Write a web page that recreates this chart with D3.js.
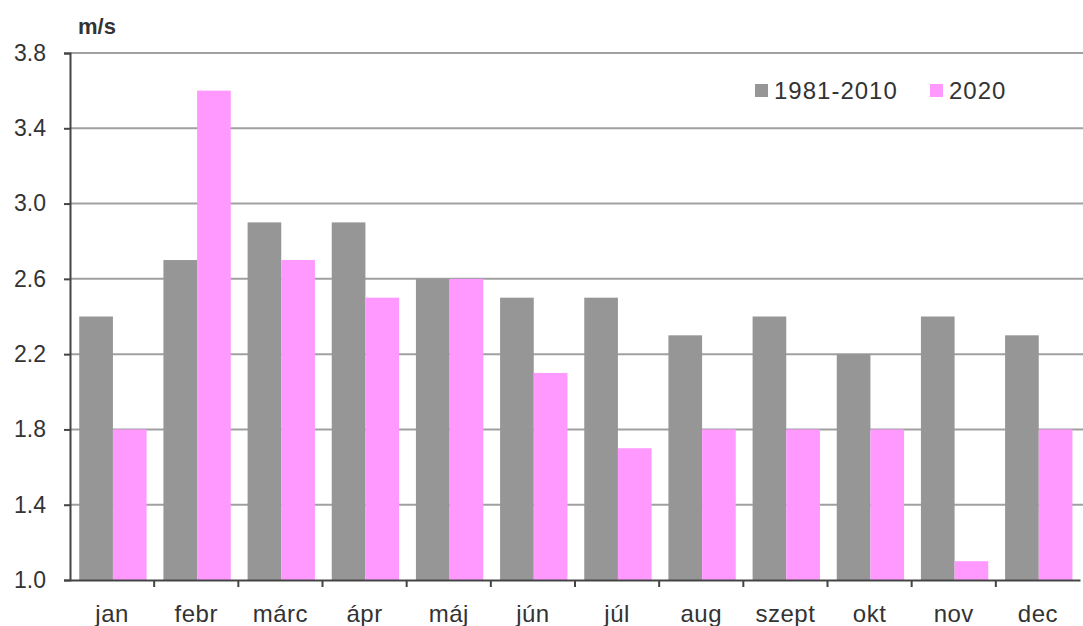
<!DOCTYPE html>
<html>
<head>
<meta charset="utf-8">
<script src="https://cdn.jsdelivr.net/npm/d3@7"></script>
<style>
  body { margin: 0; background: #fff; }
  text { font-family: "Liberation Sans", Arial, sans-serif; fill: #333; }
</style>
</head>
<body>
<div id="chart"></div>
<script>
const months = ["jan", "febr", "márc", "ápr", "máj", "jún", "júl", "aug", "szept", "okt", "nov", "dec"];
const seriesNames = ["1981-2010", "2020"];
const normal = [2.4, 2.7, 2.9, 2.9, 2.6, 2.5, 2.5, 2.3, 2.4, 2.2, 2.4, 2.3];
const year2020 = [1.8, 3.6, 2.7, 2.5, 2.6, 2.1, 1.7, 1.8, 1.8, 1.8, 1.1, 1.8];
const yTicks = [1.0, 1.4, 1.8, 2.2, 2.6, 3.0, 3.4, 3.8];
const colors = ["#969696", "#ff99ff"];

const width = 1083, height = 626;
const plotLeft = 70, plotRight = 1080, plotTop = 53, plotBottom = 580;

const svg = d3.select("#chart").append("svg")
    .attr("width", width)
    .attr("height", height);

const x0 = d3.scaleBand().domain(months).range([plotLeft, plotRight]);
const xs = d3.scaleBand().domain(seriesNames).range([0, x0.bandwidth() * 0.8]);
const y = d3.scaleLinear().domain([1.0, 3.8]).range([plotBottom, plotTop]);

// gridlines
svg.append("g")
    .selectAll("line")
    .data(yTicks.slice(1))
    .enter().append("line")
    .attr("x1", plotLeft).attr("x2", plotRight + 3)
    .attr("y1", d => y(d)).attr("y2", d => y(d))
    .attr("stroke", "#a0a0a0")
    .attr("stroke-width", 2);

// bars
const groups = svg.append("g")
    .selectAll("g")
    .data(months)
    .enter().append("g")
    .attr("transform", d => `translate(${x0(d) + x0.bandwidth() * 0.11},0)`);

[normal, year2020].forEach((vals, si) => {
    groups.append("rect")
        .attr("x", xs(seriesNames[si]))
        .attr("width", xs.bandwidth())
        .attr("y", (d, i) => y(vals[i]))
        .attr("height", (d, i) => y(1.0) - y(vals[i]))
        .attr("fill", colors[si]);
});

// y axis
const yAxis = svg.append("g")
    .attr("transform", `translate(${plotLeft},0)`)
    .call(d3.axisLeft(y).tickValues(yTicks).tickFormat(d3.format(".1f")).tickSize(6).tickPadding(18));
yAxis.select(".domain").attr("stroke", "#444").attr("stroke-width", 2);
yAxis.selectAll(".tick line").attr("stroke", "#444").attr("stroke-width", 2);
yAxis.selectAll("text").style("font-size", "23px").attr("fill", "#333");

// x axis
const xAxis = svg.append("g")
    .attr("transform", `translate(0,${plotBottom})`)
    .call(d3.axisBottom(x0).tickSize(0).tickPadding(25));
xAxis.select(".domain").attr("stroke", "#444").attr("stroke-width", 2);
xAxis.selectAll("text").style("font-size", "24px").style("letter-spacing", "0.5px").attr("fill", "#333");
xAxis.selectAll(".sep")
    .data(months.slice(1))
    .enter().append("line")
    .attr("x1", d => x0(d)).attr("x2", d => x0(d))
    .attr("y1", 0).attr("y2", 7)
    .attr("stroke", "#444").attr("stroke-width", 2);

// unit label
svg.append("text")
    .attr("x", 78).attr("y", 34)
    .style("font-size", "22px")
    .style("font-weight", "bold")
    .text("m/s");

// legend
const legendX = [755, 930];
const legend = svg.append("g");
seriesNames.forEach((name, i) => {
    legend.append("rect")
        .attr("x", legendX[i]).attr("y", 84)
        .attr("width", 13).attr("height", 13)
        .attr("fill", colors[i]);
    legend.append("text")
        .attr("x", legendX[i] + 19).attr("y", 99)
        .style("font-size", "24px")
        .style("letter-spacing", "1px")
        .text(name);
});
</script>
</body>
</html>
